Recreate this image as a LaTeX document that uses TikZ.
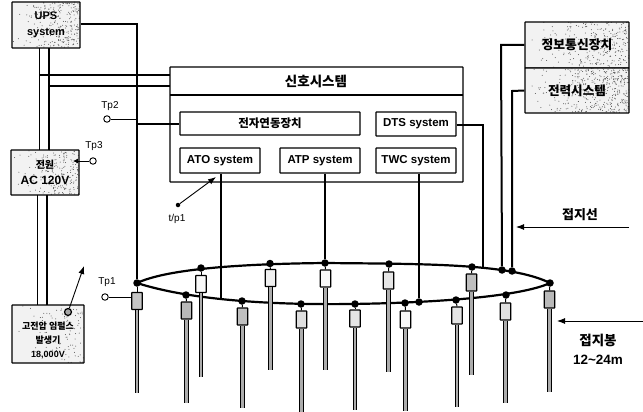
\documentclass[tikz,border=0pt]{standalone}
\usepackage{fontspec}
\setmainfont{Liberation Sans}
\newfontfamily\kr{Noto Sans CJK KR}
\usetikzlibrary{arrows.meta,calc}
\tikzset{
  every node/.style={font=\bfseries\fontsize{11.5}{13}\selectfont},
  plainbox/.style={draw,line width=1.1pt,fill=white,inner sep=0pt,align=center,rounded corners=0.5pt},
  speckle/.style={plainbox,fill=gray!10,line width=1.2pt,path picture={
    \coordinate (psw) at (path picture bounding box.south west);
    \coordinate (pse) at (path picture bounding box.south east);
    \coordinate (pnw) at (path picture bounding box.north west);
    \foreach \i in {1,...,#1}{
      \pgfmathsetmacro\uu{rnd^0.45}
      \pgfmathsetmacro\vv{rnd}
      \coordinate (pu) at ($(psw)!\uu!(pse)$);
      \coordinate (pv) at ($(psw)!\vv!(pnw)$);
      \fill[gray!65!black] (pu |- pv) rectangle +(1pt,1pt);
    }}},
  feed/.style={line width=1pt},
  heavy/.style={line width=2pt},
  ringline/.style={line width=2.2pt},
  dot/.style={circle,fill=black,inner sep=0pt,minimum size=7.5pt},
  probe/.style={circle,draw,fill=white,line width=0.9pt,inner sep=0pt,minimum size=6.5pt},
  clamp/.style={draw,line width=1.1pt,inner sep=0pt,minimum width=10.5pt,minimum height=17pt,rounded corners=0.5pt},
  rod/.style={draw=black,double=gray!65,double distance=2.4pt,line width=1.2pt},
  lead/.style={line width=0.9pt,-{Latex[length=8pt,width=6pt]}},
  tp/.style={inner sep=0pt,font=\fontsize{10}{11}\selectfont},
  krlabel/.style={inner sep=0pt,font=\kr\bfseries\fontsize{#1}{#1}\selectfont}
}
\pgfmathsetseed{7}
\begin{document}
\begin{tikzpicture}[x=1pt,y=-1pt]
\useasboundingbox (0,0) rectangle (643,412);
% signal group
\node[plainbox,minimum width=293pt,minimum height=115pt] (sig) at (316.5,124.5) {};
\coordinate (divL) at (170,95); \coordinate (divR) at (463,95);
\draw[line width=1.1pt] (divL) -- (divR);
\node[krlabel=13.5] (sigt) at (316,81) {신호시스템};
\node[plainbox,minimum width=180pt,minimum height=23pt,krlabel=11.5] (ilock) at (270,123.5) {전자연동장치};
\node[plainbox,minimum width=80pt,minimum height=24pt] (dts) at (416,124) {DTS system};
\node[plainbox,minimum width=80pt,minimum height=25pt] (ato) at (220,160.5) {ATO system};
\node[plainbox,minimum width=80pt,minimum height=25pt] (atp) at (320,160.5) {ATP system};
\node[plainbox,minimum width=80pt,minimum height=25pt] (twc) at (416,160.5) {TWC system};
% left boxes
\node[speckle=260,minimum width=68pt,minimum height=46pt,font=\bfseries\fontsize{11}{16}\selectfont] (ups) at (46,25) {UPS\\system};
\node[speckle=200,minimum width=68pt,minimum height=45pt,font=\bfseries\fontsize{12}{16}\selectfont] (pw) at (45,172.5) {{\kr\fontsize{10}{10}\selectfont 전원}\\AC 120V};
\node[speckle=110,minimum width=72pt,minimum height=58pt,font=\bfseries\fontsize{9}{14}\selectfont] (imp) at (48,334) {\rule{0pt}{20pt}{\kr 고전압 임펄스}\\{\kr 발생기}\\18,000V};
% right boxes
\node[speckle=280,minimum width=104pt,minimum height=46pt,krlabel=12.8] (info) at (577,45) {정보통신장치};
\node[speckle=420,minimum width=104pt,minimum height=45pt,krlabel=12.6] (elec) at (577,90.5) {전력시스템};
% ring
\coordinate (L0) at (137,283); \coordinate (R0) at (550,283);
\draw[ringline] (L0) .. controls (165,270) and (230,264) .. (325,263)
  .. controls (420,264) and (510,263) .. (R0)
  .. controls (520,297) and (430,303) .. (350,304)
  .. controls (270,305) and (190,300) .. (L0) -- cycle;
% ring dots
\foreach \n/\x/\y in {L/137/283,R/550/283,a/201/268,b/270/263.5,c/325/263,d/389/264,e/472/267,f/502/270,g/512/271,
  h/186/295,i/242/301,j/301/304,k/355/304,l/405/303,m/419/302,n/456/300,o/506/295}
  \node[dot] (\n) at (\x,\y) {};
% rods
\foreach \n/\d/\x/\yb/\ye/\col in {1/L/137/301/393/gray!45,2/h/186.5/310.5/403/gray!55,3/a/201/284/377/gray!5,4/i/242.5/316.5/408/gray!50,
  5/b/270.5/278/370/gray!12,6/j/301.5/319.5/412/gray!25,7/c/325.5/278.5/370/gray!5,8/k/355/318.5/410/gray!20,
  9/d/388.5/280.5/372/gray!20,10/l/405.5/319.5/411/gray!5,11/n/457/315.5/407/gray!20,12/e/471.5/282.5/375/gray!50,
  13/o/505.5/311.5/403/gray!25,14/R/549.5/299.5/392/gray!55}
{
  \coordinate (e\n) at (\x,\ye);
  \node[clamp,fill=\col] (cl\n) at (\x,\yb) {};
  \draw[line width=1pt] (\d) -- (cl\n.north);
  \draw[rod] (cl\n.south) -- (e\n);
}
% feed lines
\coordinate (upsa) at (39,48); \coordinate (upsb) at (49,48);
\coordinate (pwa) at (39,150); \coordinate (pwb) at (49,150);
\draw[feed] (upsa) -- (pwa);
\draw[feed,line width=1.2pt] (upsb) -- (pwb);
\coordinate (pwc) at (37,195); \coordinate (pwd) at (47,195);
\coordinate (impa) at (37,305); \coordinate (impb) at (47,305);
\draw[feed] (pwc) -- (impa);
\draw[feed,line width=1.3pt] (pwd) -- (impb);
\coordinate (sa) at (170,75); \coordinate (sb) at (170,86);
\draw[heavy,line width=1.6pt] (39,75) -- (sa);
\draw[heavy] (49,86) -- (sb);
\draw[heavy] (ups.east |- 0,24) -| (L);
% Tp2
\node[probe] (tp2) at (107,119) {};
\node[tp] (tp2t) at (110,106) {Tp2};
\coordinate (j2) at (136,119);
\draw[line width=0.9pt] (tp2) -- (j2);
\draw[heavy] (136,123.5) -- (ilock.west);
% Tp3
\node[probe] (tp3) at (93,161) {};
\node[tp] (tp3t) at (94,146) {Tp3};
\coordinate (tp3tip) at (73,161);
\draw[lead,-{Latex[length=5pt,width=5pt]}] (tp3) -- (tp3tip);
% t/p1
\node[dot,minimum size=4.5pt] (mp) at (178,205) {};
\node[tp] (mpt) at (177,219) {t/p1};
\coordinate (mptip) at (216,177);
\draw[lead] (mp) -- (mptip);
% Tp1
\node[probe] (tp1) at (105,297) {};
\node[tp] (tp1t) at (107,282) {Tp1};
\draw[line width=0.9pt] (tp1) -- (cl1.west |- tp1);
% impulse arrow
\node[circle,draw,fill=gray!70,line width=1.2pt,inner sep=0pt,minimum size=7pt] (imps) at (68,312) {};
\coordinate (imptip) at (84,266);
\draw[lead] (imps) -- (imptip);
% system drops
\coordinate (atoend) at (221,300);
\draw[heavy,line width=1.6pt] (ato.south -| atoend) -- (atoend);
\draw[heavy,line width=1.6pt] (atp.south -| c) -- (c);
\draw[heavy,line width=1.6pt] (twc.south -| m) -- (m);
\draw[heavy] (dts.east |- 0,125) -- (483,125) -- (483,268);
\draw[heavy] (info.west) -- (501,45) -- (f);
\draw[heavy] (elec.west) -- (512,91) -- (g);
% labels right
\node[krlabel=13] (gl) at (580,215) {접지선};
\coordinate (glA) at (629,227); \coordinate (glB) at (516,227);
\draw[lead] (glA) -- (glB);
\node[align=center,inner sep=0pt,font=\bfseries\fontsize{13.5}{19}\selectfont] (gr) at (598,349.5) {{\kr 접지봉}\\12\textasciitilde24m};
\coordinate (grA) at (643,321); \coordinate (grB) at (557,321);
\draw[lead] (grA) -- (grB);
\end{tikzpicture}
\end{document}
